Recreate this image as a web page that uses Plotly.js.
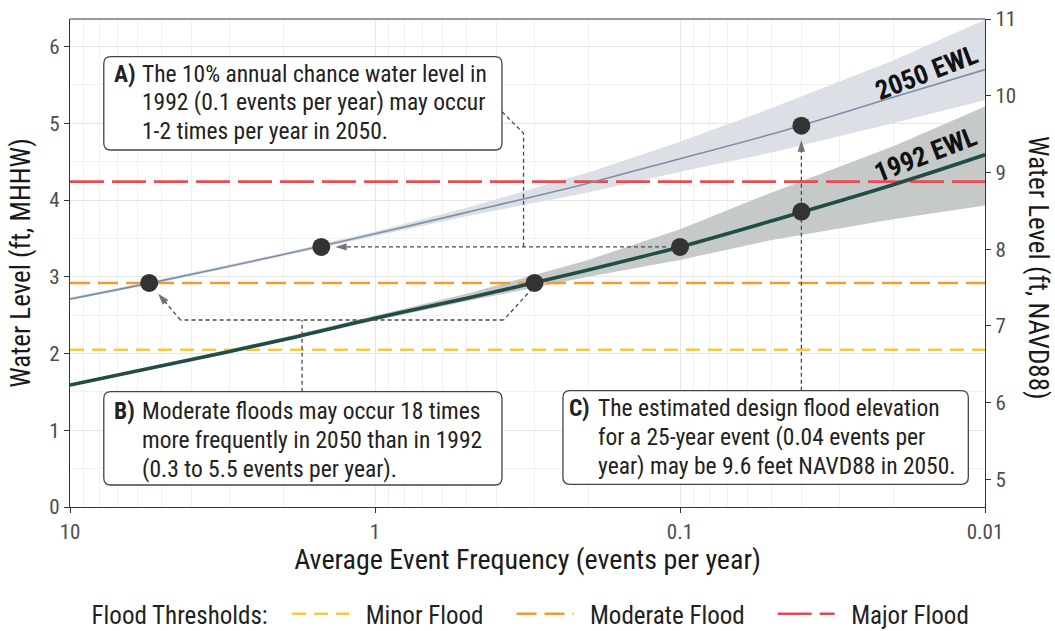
<!DOCTYPE html>
<html>
<head>
<meta charset="utf-8">
<script src="https://cdn.plot.ly/plotly-3.0.1.min.js"></script>
<style>html,body{margin:0;padding:0;background:#fff;}#chart{width:1055px;height:631px;}</style>
</head>
<body>
<div id="chart"></div>
<script>
// ---------------- data ----------------
const freq = [10, 5, 2, 1, 0.5, 0.2, 0.1, 0.05, 0.02, 0.01];
const ewl1992 = [1.59, 1.84, 2.18, 2.46, 2.72, 3.09, 3.39, 3.73, 4.20, 4.59];
const ewl1992Lo = [1.57, 1.82, 2.16, 2.43, 2.68, 3.00, 3.22, 3.48, 3.75, 3.93];
const ewl1992Hi = [1.61, 1.86, 2.21, 2.50, 2.78, 3.22, 3.62, 4.10, 4.70, 5.22];
const ewl2050 = [2.71, 2.95, 3.29, 3.56, 3.84, 4.22, 4.54, 4.86, 5.34, 5.70];
const ewl2050Lo = [2.69, 2.93, 3.27, 3.53, 3.79, 4.10, 4.37, 4.62, 5.00, 5.30];
const ewl2050Hi = [2.73, 2.97, 3.31, 3.59, 3.90, 4.36, 4.76, 5.20, 5.82, 6.35];

const dot1992F = [0.3, 0.1, 0.04];
const dot1992V = [2.92, 3.39, 3.85];
const dot2050F = [5.5, 1.5, 0.04];
const dot2050V = [2.92, 3.39, 4.97];

const thresholdNames = ["Minor Flood", "Moderate Flood", "Major Flood"];
const thresholdValues = [2.05, 2.92, 4.24];
const thresholdColors = ["#f7c846", "#f39a34", "#ec4a52"];
const thresholdDash = ["14px,8px", "20px,8px", "34px,8px"];

const datumOffset = 4.64; // NAVD88 = MHHW + offset
const designFlood2050NAVD = [9.6];
const designFloodF = [0.04];

const xTickVals = [10, 1, 0.1, 0.01];
const xTickText = ["10", "1", "0.1", "0.01"];

// ---------------- layout geometry helpers ----------------
const M = {l: 69.5, r: 70, t: 19, b: 124, autoexpand: false};
const W = 1055, H = 631;
const PW = W - M.l - M.r, PH = H - M.t - M.b;
const px2paperX = px => (px - M.l) / PW;
const py2paperY = py => (H - M.b - py) / PH;
const xLogMax = 1, xLogMin = -2, yMax = 6.36, yMin = 0;
const px2f = px => Math.pow(10, xLogMax - (px - M.l) / PW * (xLogMax - xLogMin));
const py2v = py => yMin + (H - M.b - py) / PH * (yMax - yMin);
const shiftF = (f, pxs) => f * Math.pow(10, -pxs / PW * (xLogMax - xLogMin));

const FONT = "Roboto Condensed, Roboto, Arial, sans-serif";
const NB = "\u00a0";
const traces = [];

// ribbons
traces.push({x: freq, y: ewl2050Lo, mode: "lines", line: {width: 0}, showlegend: false, hoverinfo: "skip"});
traces.push({x: freq, y: ewl2050Hi, mode: "lines", line: {width: 0}, fill: "tonexty", fillcolor: "#dcdfe6", showlegend: false, hoverinfo: "skip"});
traces.push({x: freq, y: ewl1992Lo, mode: "lines", line: {width: 0}, showlegend: false, hoverinfo: "skip"});
traces.push({x: freq, y: ewl1992Hi, mode: "lines", line: {width: 0}, fill: "tonexty", fillcolor: "#c5cac9", showlegend: false, hoverinfo: "skip"});

// thresholds
thresholdNames.forEach((n, i) => {
  const label = NB + NB + n + (i < thresholdNames.length - 1 ? NB.repeat(4) : "");
  traces.push({x: [freq[0], freq[freq.length - 1]], y: [thresholdValues[i], thresholdValues[i]],
    mode: "lines", name: label, line: {color: thresholdColors[i], width: 2.6, dash: thresholdDash[i]}, hoverinfo: "skip"});
});

// EWL lines
traces.push({x: freq, y: ewl2050, mode: "lines", line: {color: "#7d8fa8", width: 1.6, shape: "spline"}, showlegend: false});
traces.push({x: freq, y: ewl1992, mode: "lines", line: {color: "#224c48", width: 3.6, shape: "spline"}, showlegend: false});

// connectors
const CONN = {color: "#4a4a4a", width: 1.3, dash: "4px,3px"};
function connector(xs, ys, arrow) {
  const n = xs.length;
  traces.push({x: xs, y: ys, mode: arrow ? "lines+markers" : "lines", line: CONN, showlegend: false, hoverinfo: "skip",
    marker: {symbol: "arrow", angleref: "previous", size: xs.map((_, i) => (i === n - 1 ? 12 : 0)), color: "#3a3a3a", line: {width: 0}}});
}
connector([shiftF(dot1992F[1], -14), shiftF(dot2050F[1], 14)], [dot1992V[1], dot2050V[1]], true);
connector([px2f(501.7), px2f(523.3), px2f(523.3)], [py2v(111.7), py2v(133.3), dot1992V[1]], false);
connector([shiftF(dot1992F[0], -2), px2f(503.3), px2f(180), shiftF(dot2050F[0], 9)],
          [dot1992V[0] - 0.07, py2v(320), py2v(320), dot2050V[0] - 0.14], true);
connector([px2f(301.7), px2f(301.7)], [py2v(391.7), py2v(320)], false);
connector([dot2050F[2], dot2050F[2]], [py2v(390.7), dot2050V[2] - 0.19], true);

// dots
traces.push({x: dot1992F.concat(dot2050F), y: dot1992V.concat(dot2050V), mode: "markers",
  marker: {size: 18, color: "#333333"}, showlegend: false});

// invisible trace for right axis
traces.push({x: designFloodF, y: designFlood2050NAVD, yaxis: "y2", mode: "markers", marker: {opacity: 0}, showlegend: false, hoverinfo: "skip"});

const minorX = [];
for (let e = -2; e <= 0; e++) for (let k = 2; k <= 9; k++) minorX.push(k * Math.pow(10, e));

// annotations
const TXT = {family: FONT, size: 23.5, color: "#222"};
const ann = [];
function box(labelX, bodyX, lineYs, label, lines) {
  ann.push({xref: "paper", yref: "paper", x: px2paperX(labelX), y: py2paperY(lineYs[0]), xanchor: "left", yanchor: "middle",
    text: "<b>" + label + "</b>", showarrow: false, font: TXT});
  lines.forEach((t, i) => ann.push({xref: "paper", yref: "paper", x: px2paperX(bodyX), y: py2paperY(lineYs[i]),
    xanchor: "left", yanchor: "middle", text: t, showarrow: false, font: TXT}));
}
box(112, 140, [74, 102, 131], "A)", ["The 10% annual chance water level in", "1992 (0.1 events per year) may occur", "1-2 times per year in 2050."]);
box(112, 140, [411, 440, 469], "B)", ["Moderate floods may occur 18 times", "more frequently in 2050 than in 1992", "(0.3 to 5.5 events per year)."]);
box(567, 596, [408, 437, 466], "C)", ["The estimated design flood elevation", "for a 25-year event (0.04 events per", "year) may be 9.6 feet NAVD88 in 2050."]);

ann.push({xref: "paper", yref: "paper", x: px2paperX(926), y: py2paperY(73), xanchor: "center", yanchor: "middle",
  text: "<b>2050 EWL</b>", textangle: -21, showarrow: false, font: {family: FONT, size: 27, color: "#111"}});
ann.push({xref: "paper", yref: "paper", x: px2paperX(925), y: py2paperY(155), xanchor: "center", yanchor: "middle",
  text: "<b>1992 EWL</b>", textangle: -21, showarrow: false, font: {family: FONT, size: 27, color: "#111"}});
ann.push({xref: "paper", yref: "paper", x: px2paperX(1038), y: py2paperY(268), xanchor: "center", yanchor: "middle",
  text: "Water Level (ft, NAVD88)", textangle: 90, showarrow: false, font: {family: FONT, size: 27, color: "#1a1a1a"}});

function rrect(x0, y0, x1, y1, r) {
  const X = px2paperX, Y = py2paperY;
  const rx = r / PW, ry = r / PH;
  const a = X(x0), b = X(x1), c = Y(y0), d = Y(y1);
  return `M${a + rx},${c} L${b - rx},${c} Q${b},${c} ${b},${c - ry} L${b},${d + ry} Q${b},${d} ${b - rx},${d} L${a + rx},${d} Q${a},${d} ${a},${d + ry} L${a},${c - ry} Q${a},${c} ${a + rx},${c} Z`;
}
const BOX = {type: "path", xref: "paper", yref: "paper", fillcolor: "#fff", line: {color: "#444", width: 1.3}, layer: "above"};
const shapes = [
  Object.assign({}, BOX, {path: rrect(103.3, 56.7, 501.7, 150, 7)}),
  Object.assign({}, BOX, {path: rrect(103.3, 391.7, 501.7, 485, 7)}),
  Object.assign({}, BOX, {path: rrect(562.7, 390.7, 968.3, 484.3, 7)}),
  {type: "line", xref: "paper", yref: "paper", x0: 0, x1: 1, y0: 1, y1: 1, line: {color: "#9a9a9a", width: 2}, layer: "above"}
];

const layout = {
  width: W, height: H,
  margin: M,
  paper_bgcolor: "#fff", plot_bgcolor: "#fff",
  font: {family: FONT, color: "#222"},
  xaxis: {
    type: "log", range: [xLogMax, xLogMin], tickvals: xTickVals, ticktext: xTickText, automargin: false,
    showgrid: true, gridcolor: "#e6e6e6", gridwidth: 1,
    minor: {tickvals: minorX, showgrid: true, gridcolor: "#f1f1f1", gridwidth: 1, ticks: ""},
    showline: true, linecolor: "#333", linewidth: 1.3, ticks: "outside", ticklen: 5, tickcolor: "#333",
    tickfont: {family: FONT, size: 21, color: "#4d4d4d"}, zeroline: false,
    title: {text: "Average Event Frequency (events per year)", font: {family: FONT, size: 28, color: "#1a1a1a"}, standoff: 6}
  },
  yaxis: {
    range: [yMin, yMax], dtick: 1, tick0: 0, showgrid: true, gridcolor: "#e6e6e6", zeroline: false, automargin: false,
    minor: {dtick: 0.5, showgrid: true, gridcolor: "#f1f1f1", ticks: ""},
    showline: true, linecolor: "#333", linewidth: 1.3, ticks: "outside", ticklen: 5, tickcolor: "#333",
    tickfont: {family: FONT, size: 21, color: "#4d4d4d"},
    title: {text: "Water Level (ft, MHHW)", font: {family: FONT, size: 27, color: "#1a1a1a"}, standoff: 10}
  },
  yaxis2: {
    overlaying: "y", side: "right", range: [yMin + datumOffset, yMax + datumOffset], dtick: 1, tick0: 0, automargin: false,
    showgrid: false, zeroline: false, showline: true, linecolor: "#333", linewidth: 1.3,
    ticks: "outside", ticklen: 5, tickcolor: "#333", tickfont: {family: FONT, size: 21, color: "#4d4d4d"}
  },
  showlegend: true,
  legend: {
    orientation: "h", x: 0.505, xanchor: "center", y: py2paperY(614), yanchor: "middle", traceorder: "normal",
    title: {text: "Flood Thresholds:" + NB + NB, side: "left", font: {family: FONT, size: 25, color: "#222"}},
    font: {family: FONT, size: 25, color: "#222"}, itemwidth: 57, bgcolor: "rgba(0,0,0,0)"
  },
  annotations: ann,
  shapes: shapes
};

Plotly.newPlot("chart", traces, layout, {displayModeBar: false, staticPlot: true});
</script>
</body>
</html>
